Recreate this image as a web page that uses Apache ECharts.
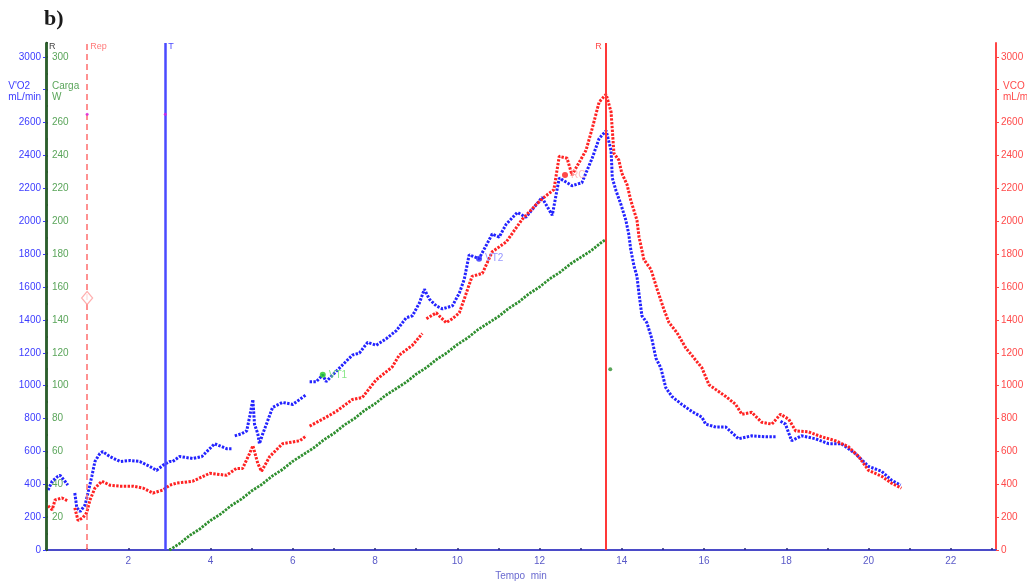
<!DOCTYPE html>
<html>
<head>
<meta charset="utf-8">
<script src="https://cdn.jsdelivr.net/npm/echarts@6/dist/echarts.min.js"></script>
<style>
html,body{margin:0;padding:0;background:#fff;}
#chart{width:1027px;height:586px;}
</style>
</head>
<body>
<div id="chart"></div>
<script>
// ---- data ----
const vo2Time = [0.05,0.15,0.29,0.34,0.46,0.53,0.6,0.70,0.75,0.83,0.95,1.02,1.12,1.19,1.31,1.38,1.55,1.80,2.04,2.28,2.52,2.69,2.84,3.01,3.08,3.25,3.57,3.79,4.10,4.39,4.51,4.55,4.59,4.75,4.88,4.95,5.03,5.07,5.15,5.19,5.27,5.36,5.51,5.75,6.00,6.17,6.33,6.37,6.41,6.57,6.73,6.81,7.21,7.45,7.62,7.82,8.03,8.28,8.52,8.76,8.91,9.08,9.20,9.32,9.49,9.64,9.88,10.05,10.17,10.29,10.53,10.85,11.02,11.19,11.46,11.67,12.06,12.31,12.48,12.79,13.03,13.28,13.45,13.62,13.74,13.77,13.86,13.98,14.10,14.17,14.22,14.30,14.37,14.42,14.49,14.61,14.73,14.83,14.95,15.07,15.22,15.46,15.70,15.95,16.04,16.29,16.53,16.84,17.16,17.50,17.74,17.80,17.86,17.98,18.13,18.37,18.71,19.03,19.34,19.68,20.00,20.32,20.56,20.78];
const vo2Values = [365,419,449,455,419,395,null,347,257,234,275,347,455,539,587,599,569,539,545,539,509,485,515,539,539,569,557,569,647,617,617,null,695,707,725,808,916,766,707,647,707,766,868,898,886,916,946,null,1024,1024,1066,1024,1126,1186,1198,1263,1246,1287,1335,1413,1425,1503,1587,1527,1485,1467,1485,1563,1647,1796,1772,1922,1904,1982,2054,2024,2144,2036,2263,2216,2234,2383,2503,2551,2431,2263,2186,2102,2006,1922,1826,1725,1665,1557,1425,1383,1287,1168,1108,988,934,886,844,808,766,748,748,677,695,689,689,null,784,766,665,695,677,647,647,587,509,479,425,395];

const vco2Time = [0.05,0.15,0.22,0.39,0.53,0.6,0.70,0.78,0.90,0.99,1.07,1.19,1.36,1.55,1.80,2.11,2.36,2.60,2.84,3.01,3.17,3.57,3.98,4.39,4.63,4.78,4.95,5.03,5.15,5.24,5.44,5.75,6.17,6.33,6.37,6.41,6.81,7.06,7.45,7.69,8.03,8.42,8.59,8.91,9.15,9.20,9.25,9.49,9.73,9.88,10.05,10.17,10.36,10.61,10.85,11.19,11.58,11.92,12.16,12.35,12.48,12.67,12.79,13.13,13.28,13.45,13.62,13.74,13.81,13.93,14.00,14.13,14.22,14.37,14.42,14.54,14.71,14.86,15.02,15.15,15.34,15.56,15.70,15.95,16.12,16.29,16.53,16.77,16.92,17.16,17.40,17.65,17.86,18.06,18.23,18.54,18.86,19.20,19.51,19.76,20.00,20.32,20.56,20.80];
const vco2Values = [269,245,305,317,299,null,257,180,198,228,305,377,419,395,389,389,377,347,365,395,407,419,467,455,497,497,587,635,527,479,569,647,665,695,null,754,808,844,916,928,1036,1114,1186,1246,1317,null,1407,1443,1383,1407,1443,1527,1665,1683,1814,1874,2012,2102,2156,2192,2395,2383,2281,2431,2563,2725,2772,2665,2413,2371,2293,2222,2126,2006,1904,1766,1707,1587,1467,1383,1323,1228,1186,1108,1006,976,934,886,826,838,778,766,826,796,725,719,689,665,629,569,485,449,407,377];

const loadTime = [3.0,3.25,3.5,3.75,4.0,4.25,4.5,4.75,5.0,5.25,5.5,5.75,6.0,6.25,6.5,6.75,7.0,7.25,7.5,7.75,8.0,8.25,8.5,8.75,9.0,9.25,9.5,9.75,10.0,10.25,10.5,10.75,11.0,11.25,11.5,11.75,12.0,12.25,12.5,12.75,13.0,13.25,13.5,13.62];
const loadValues = [0,4,9,13,18,22,27,31,36,40,45,49,54,58,62,67,71,76,80,85,89,94,98,102,107,111,116,120,125,129,134,138,142,147,151,156,160,165,169,174,178,182,187,189];
const loadExtraPoint = [13.72, 110];

// event markers (time, min)
const eventNames = ['R', 'Rep', 'T', 'R'];
const eventTimes = [0, 1.0, 2.9, 13.62];
// threshold annotations [time, VO2]
const thresholdNames = ['VT1', 'VT2', 'RC'];
const thresholdTimes = [6.73, 10.53, 12.62];
const thresholdVO2 = [1066, 1772, 2281];

const xTickLabels = [2,4,6,8,10,12,14,16,18,20,22];
const leftTickLabels = [0,200,400,600,800,1000,1200,1400,1600,1800,2000,2200,2400,2600,3000];
const loadTickLabels = [20,40,60,80,100,120,140,160,180,200,220,240,260,300];
const rightTickLabels = [0,200,400,600,800,1000,1200,1400,1600,1800,2000,2200,2400,2600,3000];

const pair = (ts, vs) => ts.map((t, i) => [t, vs[i]]);

const BLUE = '#2323ff', RED = '#ff2222', GREEN = '#2f8f2f';
const chart = echarts.init(document.getElementById('chart'), null, {renderer: 'canvas'});

const YMAX = 3084;
const option = {
  animation: false,
  backgroundColor: '#ffffff',
  grid: {left: 46, right: 31, top: 43, bottom: 28},
  xAxis: {
    type: 'value', min: 0, max: 23.1, interval: 1,
    name: 'Tempo  min', nameLocation: 'middle', nameGap: 19,
    nameTextStyle: {color: '#6a6ad0', fontSize: 10, fontFamily: 'Liberation Sans'},
    axisLine: {show: true, lineStyle: {color: '#4b4bc8', width: 2}},
    axisTick: {show: true, inside: true, length: 2, lineStyle: {color: '#2a2a80', width: 1.5}},
    axisLabel: {
      color: '#5a5ac8', fontSize: 10, fontFamily: 'Liberation Sans', margin: 6,
      showMaxLabel: false,
      formatter: v => xTickLabels.includes(v) ? String(v) : ''
    },
    splitLine: {show: false}
  },
  yAxis: [
    {
      type: 'value', min: 0, max: YMAX, interval: 200, position: 'left',
      axisLine: {show: false},
      axisTick: {show: true, length: 3, lineStyle: {color: '#3a3aff'}},
      axisLabel: {color: '#3c3cff', fontSize: 10, fontFamily: 'Liberation Sans', margin: 5,
        showMaxLabel: false,
        formatter: v => leftTickLabels.includes(v) ? String(v) : ''},
      splitLine: {show: false}
    },
    {
      type: 'value', min: 0, max: YMAX / 10, interval: 20, position: 'left', offset: 0,
      axisLine: {show: true, lineStyle: {color: '#2d5f2d', width: 2.5}},
      axisTick: {show: true, inside: true, length: 2, lineStyle: {color: '#1d3f1d', width: 1.5}},
      minorTick: {show: true, splitNumber: 2, length: 2, lineStyle: {color: '#1d3f1d', width: 1.5}},
      axisLabel: {inside: true, color: '#5aa55a', fontSize: 10, fontFamily: 'Liberation Sans', margin: 6,
        showMaxLabel: false,
        formatter: v => loadTickLabels.includes(v) ? String(v) : ''},
      splitLine: {show: false}
    },
    {
      type: 'value', min: 0, max: YMAX, interval: 200, position: 'right',
      axisLine: {show: true, lineStyle: {color: '#ff4646', width: 2}},
      axisTick: {show: true, length: 3, lineStyle: {color: '#ff4646'}},
      axisLabel: {color: '#ff4a4a', fontSize: 10, fontFamily: 'Liberation Sans', margin: 5,
        showMaxLabel: false,
        formatter: v => rightTickLabels.includes(v) ? String(v) : ''},
      splitLine: {show: false}
    }
  ],
  series: [
    {
      name: 'VO2', type: 'line', yAxisIndex: 0, showSymbol: false, connectNulls: false,
      data: pair(vo2Time, vo2Values),
      lineStyle: {color: BLUE, width: 3, type: [2.4, 1.4]},
      z: 3,
      markLine: {
        silent: true, symbol: ['none', 'none'], label: {show: false},
        data: [
          {xAxis: eventTimes[0], lineStyle: {color: '#2d5f2d', width: 2.5, type: 'solid'}},
          {xAxis: eventTimes[1], lineStyle: {color: '#ff6e6e', width: 1.5, type: [6, 4]}},
          {xAxis: eventTimes[2], lineStyle: {color: '#4a4aff', width: 2.5, type: 'solid'}},
          {xAxis: eventTimes[3], lineStyle: {color: '#ff3838', width: 2, type: 'solid'}}
        ]
      }
    },
    {
      name: 'VCO2', type: 'line', yAxisIndex: 2, showSymbol: false, connectNulls: false,
      data: pair(vco2Time, vco2Values),
      lineStyle: {color: RED, width: 3, type: [2.4, 1.4]},
      z: 4
    },
    {
      name: 'Carga', type: 'line', yAxisIndex: 1, showSymbol: false,
      data: pair(loadTime, loadValues),
      lineStyle: {color: GREEN, width: 2.8, type: [2.4, 1.2]},
      z: 2
    },
    {
      name: 'CargaExtra', type: 'scatter', yAxisIndex: 1, symbolSize: 4,
      data: [loadExtraPoint], itemStyle: {color: GREEN}
    },
    {
      name: 'Thresholds', type: 'scatter', yAxisIndex: 0, symbolSize: 6, z: 6,
      data: thresholdNames.map((n, i) => ({
        value: [thresholdTimes[i], thresholdVO2[i]],
        itemStyle: {color: ['#22cc22', '#2a2aff', '#ff1a1a'][i]},
        label: {show: true, position: 'right', distance: 3, formatter: n,
          color: ['#66e066', '#7a7aff', '#ffaaaa'][i], fontSize: 10, fontFamily: 'Liberation Sans'}
      }))
    },
    {
      name: 'RepMark', type: 'scatter', yAxisIndex: 0, symbol: 'diamond', symbolSize: [11, 13], z: 5,
      data: [[eventTimes[1], 1533]],
      itemStyle: {color: '#ffffff', borderColor: '#ff9a9a', borderWidth: 1.2}
    },
    {
      name: 'Ticks', type: 'scatter', yAxisIndex: 0, symbolSize: 3, z: 5,
      data: [[eventTimes[1], 2650], [eventTimes[2], 2650]],
      itemStyle: {color: '#e020e0'}
    }
  ]
};
chart.setOption(option);

// text annotations positioned through the axes
const graphics = [];
const topY = 42;
const evColors = ['#444444', '#ff7a7a', '#4a4aff', '#ff4a4a'];
eventNames.forEach((n, i) => {
  const px = chart.convertToPixel({xAxisIndex: 0}, eventTimes[i]);
  const alignRight = i === 3;
  graphics.push({type: 'text', left: alignRight ? px - 11 : px + 3, top: topY,
    style: {text: n, fill: evColors[i], font: '9px "Liberation Sans"'}});
});
const y2800 = chart.convertToPixel({yAxisIndex: 0}, 2800);
graphics.push({type: 'text', right: 1027 - 41, top: y2800 - 9,
  style: {text: "V'O2\nmL/min", fill: '#3c3cff', font: '10px "Liberation Sans"', align: 'right', lineHeight: 11}});
graphics.push({type: 'text', left: 52, top: y2800 - 9,
  style: {text: 'Carga\nW', fill: '#5aa55a', font: '10px "Liberation Sans"', lineHeight: 11}});
graphics.push({type: 'text', left: 1003, top: y2800 - 9,
  style: {text: 'VCO\nmL/m', fill: '#ff4a4a', font: '10px "Liberation Sans"', lineHeight: 11}});
graphics.push({type: 'text', left: 44, top: 8,
  style: {text: 'b)', fill: '#1a1a1a', font: 'bold 22px "Liberation Serif"'}});
chart.setOption({graphic: graphics});
</script>
</body>
</html>
